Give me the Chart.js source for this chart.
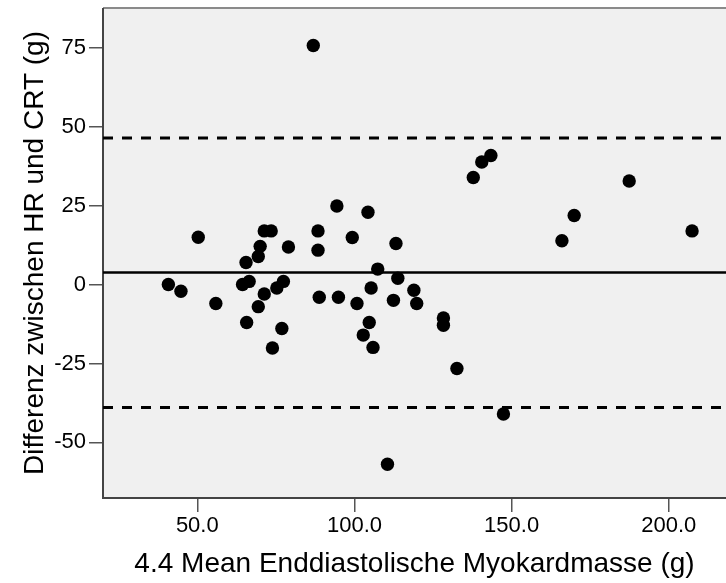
<!DOCTYPE html>
<html>
<head>
<meta charset="utf-8">
<script src="https://cdn.jsdelivr.net/npm/chart.js@4"></script>
<style>
  body { margin: 0; background: #fff; }
  #wrap { width: 726px; height: 583px; }
</style>
</head>
<body>
<div id="wrap"><canvas id="baChart" width="726" height="583"></canvas></div>
<script>
// Mittelwert der beiden Messungen (x) und Differenz HR - CRT (y)
var meanMass = [40.8, 44.8, 50.3, 55.9, 64.4, 65.5, 65.7, 66.5, 69.4, 69.4,
    70.0, 71.3, 71.3, 73.5, 73.9, 75.3, 76.9, 77.4, 79.0, 86.9,
    88.4, 88.4, 88.8, 94.4, 94.9, 99.3, 100.8, 102.8, 104.3, 104.7,
    105.3, 105.9, 107.4, 110.5, 112.4, 113.2, 113.8, 118.9, 119.8, 128.3,
    128.3, 132.6, 137.8, 140.5, 143.4, 147.4, 166.0, 169.9, 187.4, 207.4];
var diffMass = [0, -2.1, 15, -6, 0, 7, -12, 1, 8.9, -7,
    12.1, 17, -3, 17, -20.1, -1.1, -13.9, 1, 11.9, 75.7,
    17, 10.9, -4, 24.9, -4, 14.9, -6, -16, 22.9, -12,
    -1.1, -19.9, 4.9, -56.9, -5, 13, 2, -1.8, -6, -10.6,
    -12.9, -26.6, 33.9, 38.8, 40.9, -41, 13.9, 21.9, 32.8, 17];

// mittlere Differenz und Limits of Agreement
var meanDiff = 3.8;
var upperLoA = 46.4;
var lowerLoA = -38.9;

// Achsen
var xRange = [20, 218.2];
var yRange = [-67.6, 87.6];
var xTicks = [50, 100, 150, 200];
var yTicks = [-50, -25, 0, 25, 50, 75];

var font = "Arial, 'Liberation Sans', sans-serif";

var points = meanMass.map((m, i) => ({ x: m, y: diffMass[i] }));

function hLine(val) {
    return [{ x: xRange[0], y: val }, { x: xRange[1], y: val }];
}

// Hintergrund und Rahmen des Plotbereichs
var plotFrame = {
    id: 'plotFrame',
    beforeDatasetsDraw(chart) {
        var a = chart.chartArea;
        var ctx = chart.ctx;
        ctx.save();
        ctx.fillStyle = '#f0f0f0';
        ctx.fillRect(a.left, a.top, a.right - a.left, a.bottom - a.top);
        ctx.lineWidth = 2;
        ctx.strokeStyle = '#8a8a8a';
        ctx.beginPath();
        ctx.moveTo(a.left, a.top);
        ctx.lineTo(a.right, a.top);
        ctx.stroke();
        ctx.strokeStyle = '#444';
        ctx.beginPath();
        ctx.moveTo(a.left, a.top);
        ctx.lineTo(a.left, a.bottom);
        ctx.lineTo(a.right, a.bottom);
        ctx.stroke();
        ctx.restore();
    }
};

var ctx = document.getElementById('baChart').getContext('2d');
new Chart(ctx, {
    type: 'scatter',
    data: {
        datasets: [
            {
                type: 'line',
                data: hLine(meanDiff),
                borderColor: '#000',
                borderWidth: 2.5,
                pointRadius: 0
            },
            {
                type: 'line',
                data: hLine(upperLoA),
                borderColor: '#000',
                borderWidth: 3,
                borderDash: [10, 9],
                pointRadius: 0
            },
            {
                type: 'line',
                data: hLine(lowerLoA),
                borderColor: '#000',
                borderWidth: 3,
                borderDash: [10, 9],
                pointRadius: 0
            },
            {
                data: points,
                backgroundColor: '#000',
                borderWidth: 0,
                pointRadius: 6.7,
                pointHoverRadius: 6.7
            }
        ]
    },
    options: {
        responsive: false,
        animation: false,
        layout: { autoPadding: false, padding: { top: 8, left: 0, right: 0, bottom: 0 } },
        plugins: {
            legend: { display: false },
            tooltip: { enabled: false }
        },
        scales: {
            x: {
                type: 'linear',
                min: xRange[0],
                max: xRange[1],
                afterBuildTicks: s => { s.ticks = xTicks.map(v => ({ value: v })); },
                afterFit: s => {
                    s.height = 85;
                    s.paddingLeft = 0;
                    s.paddingRight = 0;
                },
                border: { display: false },
                grid: { drawOnChartArea: false, tickLength: 14, color: '#555', lineWidth: 1.5 },
                ticks: {
                    padding: 1,
                    color: '#000',
                    font: { family: font, size: 22 },
                    callback: v => v.toFixed(1)
                },
                title: {
                    display: true,
                    text: '4.4 Mean Enddiastolische Myokardmasse (g)',
                    color: '#000',
                    font: { family: font, size: 28, weight: 'normal' },
                    padding: { top: 0, bottom: 2 }
                }
            },
            y: {
                type: 'linear',
                min: yRange[0],
                max: yRange[1],
                afterBuildTicks: s => { s.ticks = yTicks.map(v => ({ value: v })); },
                afterFit: s => {
                    s.width = 103;
                    s.paddingTop = 0;
                    s.paddingBottom = 0;
                },
                border: { display: false },
                grid: { drawOnChartArea: false, tickLength: 14, color: '#555', lineWidth: 1.5 },
                ticks: {
                    padding: 3,
                    color: '#000',
                    font: { family: font, size: 22 }
                },
                title: {
                    display: true,
                    text: 'Differenz zwischen HR und CRT (g)',
                    color: '#000',
                    font: { family: font, size: 28, weight: 'normal' },
                    padding: { top: 18, bottom: 0 }
                }
            }
        }
    },
    plugins: [plotFrame]
});
</script>
</body>
</html>
